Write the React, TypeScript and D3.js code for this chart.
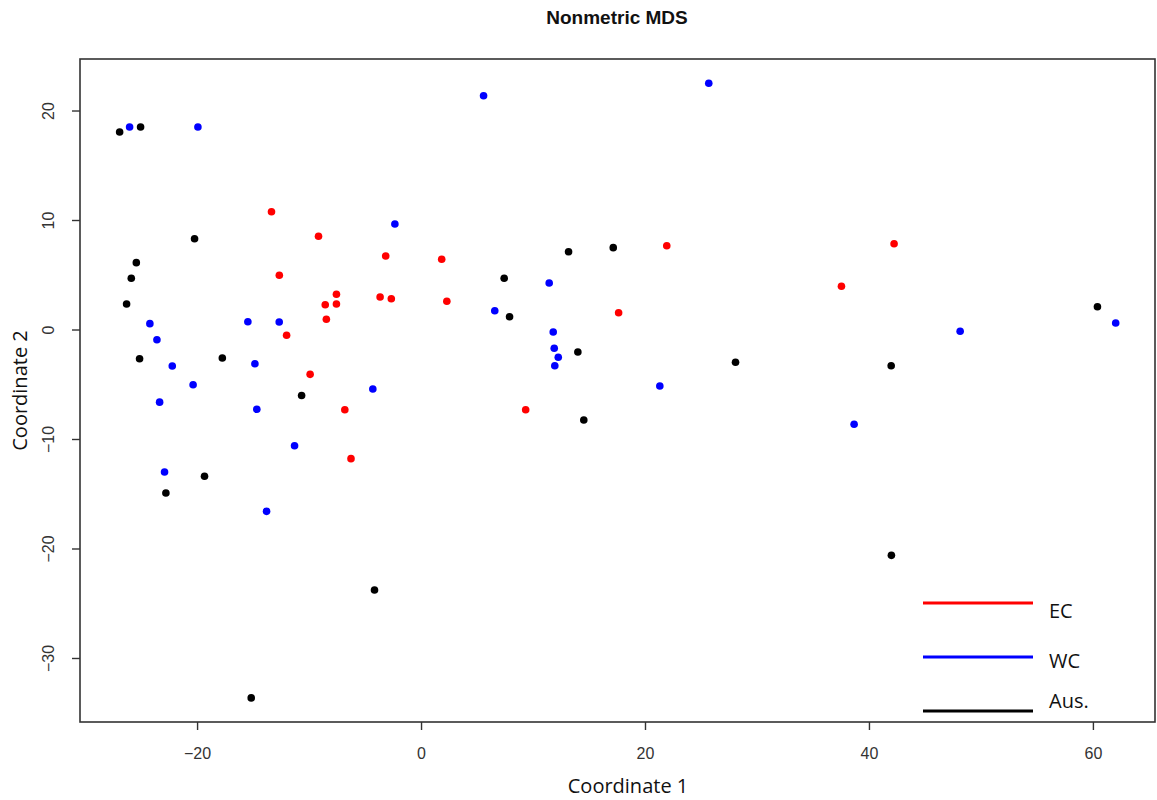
import React from "react";
import * as d3 from "d3";

type Pt = [number, number];

const ecPoints: Pt[] = [
  [-13.4, 10.8], [-9.2, 8.56], [-3.2, 6.76], [-12.7, 5.0], [-7.6, 3.26],
  [-8.6, 2.31], [-7.6, 2.37], [-3.7, 3.01], [-2.7, 2.86], [-8.5, 0.98],
  [-12.05, -0.48], [-9.95, -4.05], [-6.85, -7.28], [-6.3, -11.75], [1.8, 6.46],
  [2.26, 2.62], [17.6, 1.58], [21.9, 7.7], [9.3, -7.28], [37.5, 3.99], [42.2, 7.88],
];

const wcPoints: Pt[] = [
  [-26.07, 18.54], [-19.97, 18.54], [5.54, 21.4], [25.65, 22.53], [-2.38, 9.68],
  [-24.26, 0.58], [-23.63, -0.89], [-15.51, 0.76], [-12.71, 0.73], [-22.26, -3.29],
  [-14.88, -3.08], [-20.4, -5.0], [-23.39, -6.59], [-4.35, -5.39], [-14.71, -7.24],
  [-11.34, -10.57], [-22.95, -12.97], [-13.84, -16.56], [11.4, 4.29], [6.54, 1.76],
  [11.76, -0.18], [11.85, -1.67], [12.21, -2.49], [11.9, -3.26], [21.28, -5.11],
  [38.63, -8.61], [48.1, -0.12], [61.99, 0.64],
];

const ausPoints: Pt[] = [
  [-26.96, 18.08], [-25.09, 18.54], [-20.27, 8.34], [-25.47, 6.15], [-25.92, 4.72],
  [-26.34, 2.37], [-25.18, -2.62], [-17.79, -2.56], [-10.71, -5.98], [-19.38, -13.36],
  [-22.83, -14.89], [-4.2, -23.74], [-15.21, -33.6], [7.38, 4.72], [13.13, 7.15],
  [17.12, 7.52], [7.86, 1.21], [13.96, -2.01], [14.49, -8.22], [28.04, -2.95],
  [41.94, -3.26], [41.96, -20.58], [60.36, 2.13],
];

const groupNames = ["EC", "WC", "Aus."];
const groupColors = ["#ff0000", "#0000ff", "#000000"];
const groups: Pt[][] = [ecPoints, wcPoints, ausPoints];

const xTicks = [-20, 0, 20, 40, 60];
const yTicks = [-30, -20, -10, 0, 10, 20];

const W = 1157;
const H = 800;
const L = 80, R = 1155, T = 59, B = 722;

export default function App() {
  const x = d3.scaleLinear().domain([-30.5, 65.5]).range([L, R]);
  const y = d3.scaleLinear().domain([-35.8, 24.75]).range([B, T]);
  const axisColor = "#333";
  const tickFont = "Liberation Sans, Arial, sans-serif";
  const labelFont = "'Open Sans', 'Noto Sans', sans-serif";

  return (
    <svg
      width={W}
      height={H}
      style={{ position: "absolute", left: 0, top: 0, background: "#fff" }}
    >
      <rect x={0} y={0} width={W} height={H} fill="#fff" />
      <text
        x={617}
        y={24}
        textAnchor="middle"
        fontFamily={tickFont}
        fontWeight="bold"
        fontSize={19}
        fill="#111"
      >
        Nonmetric MDS
      </text>

      <rect x={L} y={T} width={R - L} height={B - T} fill="none" stroke={axisColor} strokeWidth={1.6} />

      {xTicks.map((t) => (
        <g key={"xt" + t}>
          <line x1={x(t)} x2={x(t)} y1={B} y2={B + 8} stroke={axisColor} strokeWidth={1.4} />
          <text
            x={x(t)}
            y={B + 37}
            textAnchor="middle"
            fontFamily={tickFont}
            fontSize={16}
            fill="#333"
          >
            {t < 0 ? "\u2212" + Math.abs(t) : t}
          </text>
        </g>
      ))}

      {yTicks.map((t) => (
        <g key={"yt" + t}>
          <line x1={L - 8} x2={L} y1={y(t)} y2={y(t)} stroke={axisColor} strokeWidth={1.4} />
          <text
            transform={`translate(${L - 26},${y(t)}) rotate(-90)`}
            textAnchor="middle"
            fontFamily={tickFont}
            fontSize={16}
            fill="#333"
          >
            {t < 0 ? "\u2212" + Math.abs(t) : t}
          </text>
        </g>
      ))}

      <text
        x={628}
        y={793}
        textAnchor="middle"
        fontFamily={labelFont}
        fontSize={20}
        fill="#111"
      >
        Coordinate 1
      </text>
      <text
        transform={`translate(27,${(T + B) / 2}) rotate(-90)`}
        textAnchor="middle"
        fontFamily={labelFont}
        fontSize={20}
        fill="#111"
      >
        Coordinate 2
      </text>

      {groups.map((pts, gi) => (
        <g key={"g" + gi}>
          {pts.map((p, i) => (
            <circle key={i} cx={x(p[0])} cy={y(p[1])} r={3.8} fill={groupColors[gi]} />
          ))}
        </g>
      ))}

      {groupNames.map((name, i) => {
        const ly = [603, 657, 711][i];
        const ty = [618, 668, 708][i];
        return (
          <g key={"lg" + i}>
            <line x1={923} x2={1033} y1={ly} y2={ly} stroke={groupColors[i]} strokeWidth={3} />
            <text x={1049} y={ty} fontFamily={labelFont} fontSize={20} fill="#111">
              {name}
            </text>
          </g>
        );
      })}
    </svg>
  );
}
